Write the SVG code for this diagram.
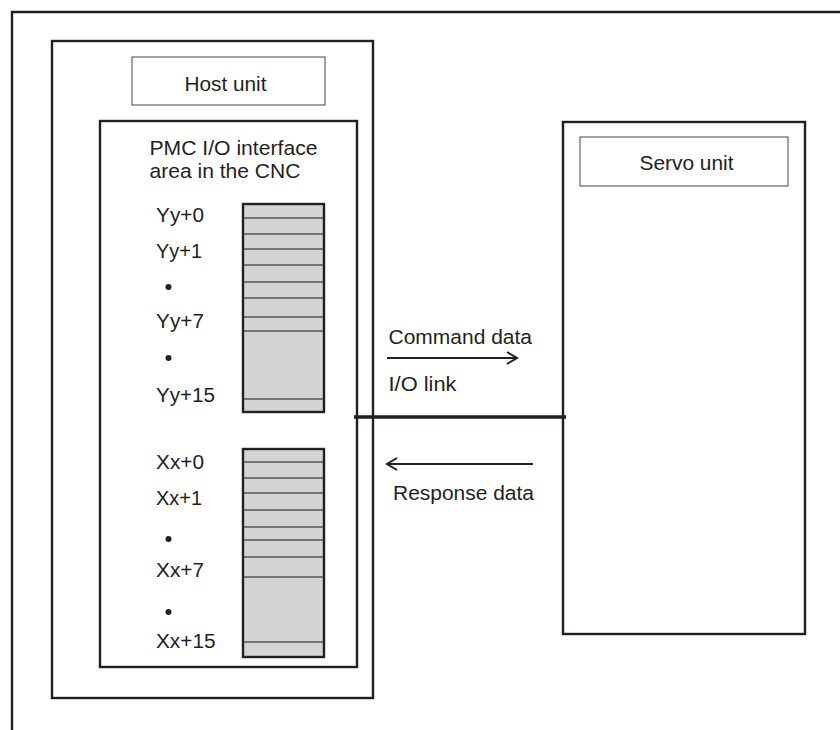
<svg xmlns="http://www.w3.org/2000/svg" width="840" height="730" viewBox="0 0 840 730">
<style>
.frame{fill:none;stroke:#231f20;stroke-width:2.4}
.lbl{fill:#fff;stroke:#555;stroke-width:1.1}
.reg{fill:#d3d4d6;stroke:#231f20;stroke-width:2.4}
.rl{stroke:#555;stroke-width:1.4}
.t{font-family:"Liberation Sans",Arial,sans-serif;font-size:20.5px;fill:#231f20}
.dot{fill:#231f20}
.arr{fill:none;stroke:#231f20;stroke-width:2}
</style>
<rect x="0" y="0" width="840" height="730" fill="#fff"/>
<g id="outer-frame">
<path class="frame" d="M12,730 V12 H840"/>
</g>
<g id="host-unit">
<rect class="frame" x="52" y="41" width="321" height="657"/>
<rect class="lbl" x="132" y="57" width="193" height="48"/>
<text class="t" x="184.5" y="91" textLength="82" lengthAdjust="spacingAndGlyphs">Host unit</text>
</g>
<g id="pmc-area">
<rect class="frame" x="100" y="121" width="257" height="546"/>
<text class="t" x="149.5" y="155" textLength="168" lengthAdjust="spacingAndGlyphs">PMC I/O interface</text>
<text class="t" x="149.5" y="178" textLength="151" lengthAdjust="spacingAndGlyphs">area in the CNC</text>
</g>
<g id="y-registers">
<rect class="reg" x="243" y="204" width="81" height="208"/>
<path class="rl" d="M244,218H323M244,234H323M244,249H323M244,265H323M244,282H323M244,298H323M244,317H323M244,331H323M244,399H323"/>
<text class="t" x="156" y="222" textLength="48" lengthAdjust="spacingAndGlyphs">Yy+0</text>
<text class="t" x="156" y="258" textLength="46" lengthAdjust="spacingAndGlyphs">Yy+1</text>
<circle class="dot" cx="168.5" cy="287" r="3"/>
<text class="t" x="156" y="328" textLength="48" lengthAdjust="spacingAndGlyphs">Yy+7</text>
<circle class="dot" cx="168.5" cy="358" r="3"/>
<text class="t" x="156" y="402" textLength="59" lengthAdjust="spacingAndGlyphs">Yy+15</text>
</g>
<g id="x-registers">
<rect class="reg" x="243" y="449" width="81" height="208"/>
<path class="rl" d="M244,462H323M244,478H323M244,493H323M244,510H323M244,527H323M244,540H323M244,557H323M244,577H323M244,642H323"/>
<text class="t" x="156" y="469" textLength="48" lengthAdjust="spacingAndGlyphs">Xx+0</text>
<text class="t" x="156" y="505" textLength="46" lengthAdjust="spacingAndGlyphs">Xx+1</text>
<circle class="dot" cx="168.5" cy="539" r="3"/>
<text class="t" x="156" y="577" textLength="48" lengthAdjust="spacingAndGlyphs">Xx+7</text>
<circle class="dot" cx="168.5" cy="612" r="3"/>
<text class="t" x="156" y="648" textLength="59.5" lengthAdjust="spacingAndGlyphs">Xx+15</text>
</g>
<g id="servo-unit">
<rect class="frame" x="563" y="122" width="242" height="512"/>
<rect class="lbl" x="580" y="137" width="208" height="49"/>
<text class="t" x="639.5" y="170" textLength="94" lengthAdjust="spacingAndGlyphs">Servo unit</text>
</g>
<g id="connectors">
<line x1="354" y1="417" x2="566" y2="417" stroke="#231f20" stroke-width="3.4"/>
<path class="arr" d="M387,358H516M507,352L517,358L507,364"/>
<path class="arr" d="M533,464H388M397,458L387,464L397,470"/>
<text class="t" x="388.5" y="344" textLength="143.5" lengthAdjust="spacingAndGlyphs">Command data</text>
<text class="t" x="388.5" y="391" textLength="68" lengthAdjust="spacingAndGlyphs">I/O link</text>
<text class="t" x="393" y="500" textLength="141" lengthAdjust="spacingAndGlyphs">Response data</text>
</g>
</svg>
